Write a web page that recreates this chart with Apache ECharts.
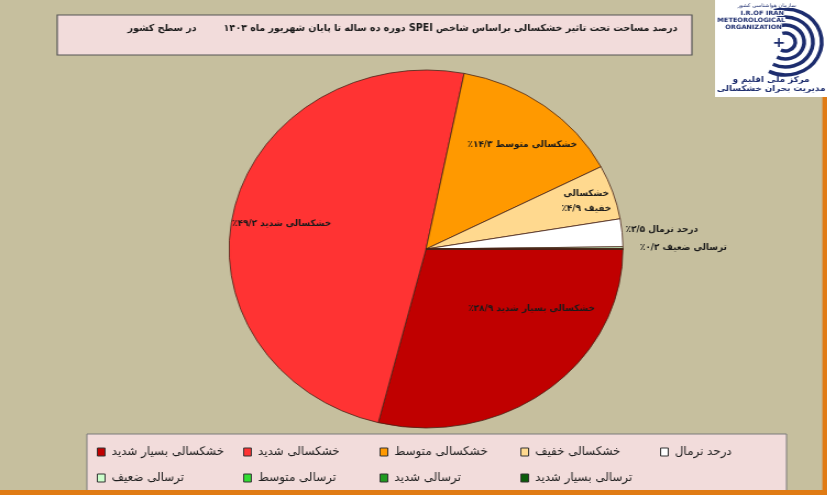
<!DOCTYPE html>
<html><head><meta charset="utf-8">
<script src="https://cdn.jsdelivr.net/npm/echarts@6/dist/echarts.min.js"></script>
<style>
html,body{margin:0;padding:0;background:#C6BF9E;overflow:hidden}
#wrap{width:827px;height:495px;overflow:hidden;position:relative}
#chart{width:752px;height:495px;transform:scaleX(1.1);transform-origin:0 0}
</style></head>
<body><div id="wrap"><div id="chart" dir="rtl"></div></div>
<script>
// ---- data ----
const categories = ['خشکسالی بسیار شدید','خشکسالی شدید','خشکسالی متوسط','خشکسالی خفیف','درحد نرمال','ترسالی ضعیف','ترسالی متوسط','ترسالی شدید','ترسالی بسیار شدید'];
const values = [28.9, 49.2, 14.3, 4.9, 2.5, 0.2, 0, 0, 0];
const colors = ['#C00000','#FF3333','#FF9900','#FFD98F','#FFFFFF','#CCFFCC','#33DD33','#1F9A1F','#0A5C0A'];
const titleMain = 'درصد مساحت تحت تاثیر خشکسالی براساس شاخص SPEI دوره ده ساله تا پایان شهریور ماه ۱۴۰۳';
const titleSub = 'در سطح کشور';
const logoEn = ['I.R.OF IRAN','METEOROLOGICAL','ORGANIZATION'];
const logoFa = ['سازمان هواشناسی کشور','مرکز ملی اقلیم و','مدیریت بحران خشکسالی'];

// ---- helpers ----
const FONT = '"DejaVu Sans Condensed", "DejaVu Sans"';
const faDigits = '۰۱۲۳۴۵۶۷۸۹';
function toFa(v){ return String(v).replace('.', '/').replace(/\d/g, d => faDigits[d]); }
const wrapAfterFirstWord = {3: true};
const labelShift = [[39,-13],[-41,-5],[32,-30],[58,-18]];

const pieData = categories.map((n, i) => ({
  name: n, value: values[i],
  itemStyle: {color: colors[i]},
  label: {show: values[i] > 0}
}));

const legendCols = [[0,5],[1,6],[2,7],[3,8],[4]];
const legendX = [88, 221, 345, 473, 600];

const chart = echarts.init(document.getElementById('chart'), null, {renderer:'canvas'});
chart.setOption({
  animation: false,
  backgroundColor: '#C6BF9E',
  title: [
    {text: titleMain, right: 136, top: 23, padding: 0,
     textStyle: {fontFamily: FONT, fontSize: 9.6, fontWeight: 'bold', color: '#1a1a1a'}},
    {text: titleSub, left: 116, top: 23, padding: 0,
     textStyle: {fontFamily: FONT, fontSize: 9.6, fontWeight: 'bold', color: '#1a1a1a'}}
  ],
  legend: legendCols.map((col, k) => ({
    data: col.map(i => categories[i]),
    orient: 'vertical', left: legendX[k], top: 445, padding: 0,
    itemWidth: 7, itemHeight: 8, itemGap: 12, icon: 'rect', selectedMode: false,
    itemStyle: {borderColor: '#333', borderWidth: 1},
    textStyle: {fontFamily: FONT, fontSize: 12, lineHeight: 14, color: '#1e1e1e', padding: [0,0,0,1]}
  })),
  graphic: [
    {type:'rect', z:-1, shape:{x:52, y:15, width:577, height:40}, style:{fill:'#F2DCDB', stroke:'#555', lineWidth:1.2}},
    {type:'rect', z:-1, shape:{x:79, y:434, width:636, height:70}, style:{fill:'#F2DCDB', stroke:'#7a7a7a', lineWidth:1}},
    {type:'rect', z:-1, shape:{x:650, y:0, width:102, height:97}, style:{fill:'#FFFFFF'}},
    {type:'rect', shape:{x:747.6, y:97, width:5, height:398}, style:{fill:'#E07B14'}},
    {type:'rect', shape:{x:0, y:490, width:752, height:5}, style:{fill:'#E07B14'}},
    {type:'arc', shape:{cx:714, cy:42, r:9, startAngle:-Math.PI*0.6, endAngle:Math.PI*0.65}, style:{stroke:'#1D2D6E', lineWidth:3.5, fill:'none'}},
    {type:'arc', shape:{cx:714, cy:42, r:17, startAngle:-Math.PI*0.6, endAngle:Math.PI*0.65}, style:{stroke:'#1D2D6E', lineWidth:3.5, fill:'none'}},
    {type:'arc', shape:{cx:714, cy:42, r:25, startAngle:-Math.PI*0.6, endAngle:Math.PI*0.65}, style:{stroke:'#1D2D6E', lineWidth:3.5, fill:'none'}},
    {type:'arc', shape:{cx:714, cy:42, r:33, startAngle:-Math.PI*0.6, endAngle:Math.PI*0.65}, style:{stroke:'#1D2D6E', lineWidth:3.5, fill:'none'}},
    {type:'text', style:{text: logoFa[0], x:697, y:3, align:'center', fill:'#1D2D6E', font:'5px "DejaVu Sans"', backgroundColor:'#fff'}},
    {type:'text', style:{text: logoEn[0], x:693, y:10, align:'center', fill:'#1D2D6E', font:'bold 6px "DejaVu Sans"', backgroundColor:'#fff'}},
    {type:'text', style:{text: logoEn[1], x:683, y:17, align:'center', fill:'#1D2D6E', font:'bold 6px "DejaVu Sans"', backgroundColor:'#fff'}},
    {type:'text', style:{text: logoEn[2], x:685, y:24, align:'center', fill:'#1D2D6E', font:'bold 6px "DejaVu Sans"', backgroundColor:'#fff'}},
    {type:'text', style:{text: '+', x:708, y:43, align:'center', verticalAlign:'middle', fill:'#1D2D6E', font:'bold 14px "DejaVu Sans"'}},
    {type:'text', style:{text: logoFa[1], x:701, y:80, align:'center', verticalAlign:'middle', fill:'#1D2D6E', font:'bold 8px "DejaVu Sans"'}},
    {type:'text', style:{text: logoFa[2], x:701, y:89, align:'center', verticalAlign:'middle', fill:'#1D2D6E', font:'bold 8px "DejaVu Sans"'}}
  ],
  series: [{
    type: 'pie',
    center: [387.3, 249],
    radius: [0, 179],
    startAngle: 0,
    clockwise: true,
    avoidLabelOverlap: false,
    emphasis: {disabled: true},
    itemStyle: {borderColor: '#4a2418', borderWidth: 0.8},
    label: {
      position: 'inside',
      fontFamily: FONT, fontSize: 9, fontWeight: 'bold', color: '#1a1a1a', lineHeight: 15,
      formatter: p => {
        let n = p.name;
        if (wrapAfterFirstWord[p.dataIndex]) n = n.replace(' ', '\n');
        return n + ' ' + toFa(p.value) + '٪';
      }
    },
    labelLine: {show: false},
    labelLayout: p => {
      const i = p.dataIndex;
      if (i < 4) return {dx: labelShift[i][0], dy: labelShift[i][1]};
      if (i === 4) return {x: p.rect.x + p.rect.width + 2, y: p.rect.y + p.rect.height - 20, align: 'left'};
      if (i === 5) return {x: p.rect.x + p.rect.width + 15, y: p.rect.y + p.rect.height - 2, align: 'left'};
      return {};
    },
    data: pieData
  }]
});
</script>
</body></html>
